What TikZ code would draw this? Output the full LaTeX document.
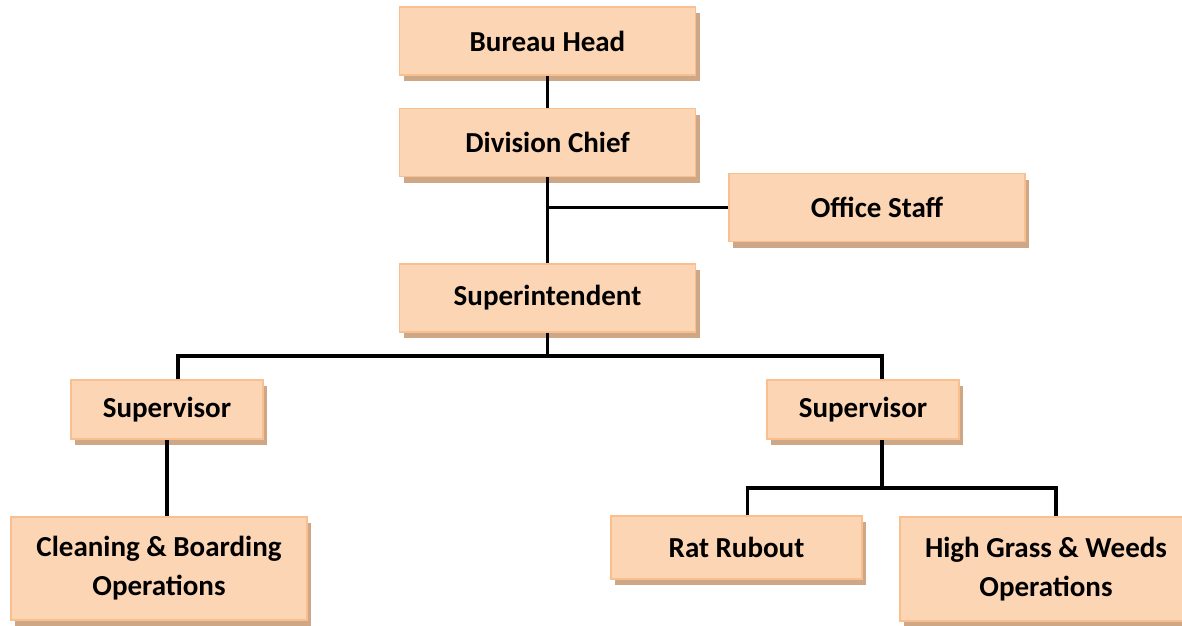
\documentclass[tikz,border=0pt]{standalone}
\usepackage{fontspec}
\setmainfont{Carlito}
\usetikzlibrary{positioning,shadows}
\definecolor{boxfill}{HTML}{FCD5B4}
\definecolor{boxline}{HTML}{F9BF8F}
\definecolor{boxshade}{RGB}{206,168,134}
\tikzset{unit/.style={draw=boxline, line width=1.5pt, fill=boxfill,
		drop shadow={shadow xshift=4pt, shadow yshift=-6pt, fill=boxshade, opacity=1},
		font=\fontsize{29}{39}\selectfont\bfseries, align=center, inner sep=0pt,
		minimum width=296pt, minimum height=68pt}}
\tikzset{link/.style={line width=3.5pt}}
\begin{document}
\begin{tikzpicture}[x=1pt,y=-1pt]
			\useasboundingbox (0,0) rectangle (1182,625);
			% top column
			\node[unit] (bureau) at (547.5,41) {Bureau Head};
			\node[unit, below=32pt of bureau] (chief) {Division Chief};
			\node[unit] (staff) at (877,207.5) {Office Staff};
			\node[unit, below=86pt of chief] (super) {Superintendent};
			% supervisors
			\node[unit, minimum width=192pt, minimum height=59pt] (supvA) at (167,409.5) {Supervisor};
			\node[unit, minimum width=192pt, minimum height=59pt] (supvB) at (863,409.5) {Supervisor};
			% crews
			\node[unit, minimum height=103pt] (clean) at (159,568.5) {Cleaning \& Boarding\\Operations};
			\node[unit, minimum width=251pt, minimum height=63pt] (rats) at (736.5,547.5) {Rat Rubout};
			\node[unit, minimum width=292pt, minimum height=104pt] (grass) at (1046,569) {High Grass \& Weeds\\Operations};
			
			\draw[link] (bureau) -- (chief);
			\draw[link] (chief) -- (super);
			\draw[link] (chief.south |- staff.west) -- (staff.west);
			\draw[link] (super.south) -- ++(0,23) coordinate (bus);
			\draw[link] ([xshift=11pt]supvA.north) |- (bus) -| ([xshift=19pt]supvB.north);
			\draw[link] (supvA.south) -- (supvA.south |- clean.north);
			\draw[link] ([xshift=19pt]supvB.south) -- ++(0,48) coordinate (fork);
			\draw[link] ([xshift=11pt]rats.north) |- (fork) -| ([xshift=10pt]grass.north);
			
\end{tikzpicture}
\end{document}
